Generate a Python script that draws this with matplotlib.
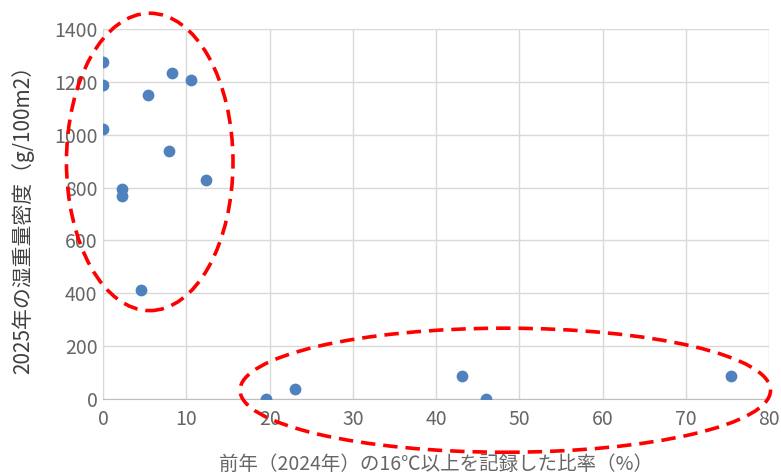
import matplotlib
matplotlib.use("Agg")
import matplotlib.pyplot as plt
from matplotlib.patches import Ellipse

plt.rcParams['font.family'] = ['Noto Sans CJK JP', 'DejaVu Sans']

# ratio of days >= 16C in 2024 (%) vs 2025 wet weight density (g/100m2)
ratio = [0.0, 0.0, 0.0, 2.3, 2.3, 4.6, 5.4, 8.3, 7.9, 10.6, 12.3,
         19.6, 23.1, 43.1, 46.0, 75.4]
density = [1275, 1188, 1021, 795, 768, 412, 1150, 1233, 938, 1207, 829,
           0, 38, 87, 0, 87]

x_ticks = [0, 10, 20, 30, 40, 50, 60, 70, 80]
y_ticks = [0, 200, 400, 600, 800, 1000, 1200, 1400]

fig = plt.figure(figsize=(7.81, 4.73), dpi=100)
ax = fig.add_axes([0.132, 0.156, 0.853, 0.783])

ax.scatter(ratio, density, s=72, color='#4F81BD', zorder=3, linewidths=0)

# groups circled in red
ax.add_patch(Ellipse((5.6, 897), 20, 1124, fill=False, edgecolor='#FF0000',
                     linewidth=2.6, linestyle=(0, (4, 2.2)), clip_on=False, zorder=4))
ax.add_patch(Ellipse((48.3, 34), 63.7, 469, fill=False, edgecolor='#FF0000',
                     linewidth=2.6, linestyle=(0, (4, 2.2)), clip_on=False, zorder=4))

ax.set_xlim(0, 80)
ax.set_ylim(0, 1400)
ax.set_xticks(x_ticks)
ax.set_yticks(y_ticks)
ax.grid(True, color='#D9D9D9', linewidth=1)
ax.set_axisbelow(True)
for s in ['top', 'right']:
    ax.spines[s].set_visible(False)
ax.spines['left'].set_color('#D9D9D9')
ax.spines['bottom'].set_color('#BFBFBF')
ax.tick_params(length=0, labelsize=14, labelcolor='#666666')
ax.tick_params(axis='y', pad=4)
ax.tick_params(axis='x', pad=7)

ax.set_xlabel('前年（2024年）の16℃以上を記録した比率（%）', fontsize=14, color='#666666', labelpad=17)
ax.set_ylabel('2025年の湿重量密度（g/100m2）', fontsize=15, color='#404040', labelpad=14)

fig.savefig('out.png', dpi=100)
